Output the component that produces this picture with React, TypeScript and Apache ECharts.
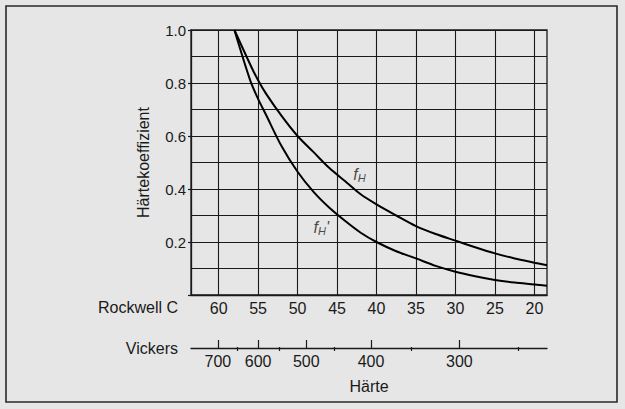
import React, { useEffect, useRef } from "react";
import * as echarts from "echarts";

// Rockwell C hardness (x) and hardness coefficients
const hrc = [58, 56, 55, 54, 52, 50, 48, 46, 44, 42, 40, 37.5, 35, 32.5, 30, 27.5, 25, 22.5, 20, 18.4];
const fH = [1.0, 0.87, 0.81, 0.76, 0.675, 0.6, 0.54, 0.48, 0.43, 0.38, 0.342, 0.3, 0.26, 0.23, 0.205, 0.18, 0.157, 0.138, 0.122, 0.112];
const fHPrime = [1.0, 0.81, 0.74, 0.68, 0.56, 0.465, 0.39, 0.33, 0.28, 0.235, 0.2, 0.165, 0.138, 0.11, 0.088, 0.071, 0.057, 0.047, 0.04, 0.035];

const rockwellTicks = [60, 55, 50, 45, 40, 35, 30, 25, 20];
const rockwellMin = 18.4;
const rockwellMax = 63.5;

// Vickers scale, positioned by equivalent Rockwell C value
const vickersMajor = [700, 600, 500, 400, 300];
const vickersMajorHRC = [60.1, 55.0, 48.9, 40.7, 29.5];
const vickersMinor = [650, 550, 450, 350, 250];
const vickersMinorHRC = [57.6, 52.3, 45.3, 35.6, 22.0];

// curve label anchors [HRC, coefficient]
const labelFH = [42.95, 0.453];
const labelFHPrime = [47.97, 0.255];

const FONT = "'Liberation Sans', Arial, Helvetica, sans-serif";
const INK = "#1a1a1a";

export default function App() {
  const ref = useRef<HTMLDivElement>(null);
  useEffect(() => {
    if (!ref.current) return;
    const chart = echarts.init(ref.current, null, { renderer: "svg" });
    const richLabel = {
      f: { fontFamily: FONT, fontStyle: "italic", fontSize: 16, color: INK },
      s: { fontFamily: FONT, fontStyle: "italic", fontSize: 11, color: INK, padding: [7, 0, 0, 0] },
    };
    chart.setOption({
      animation: false,
      backgroundColor: "#e6e6e6",
      textStyle: { fontFamily: FONT },
      graphic: [
        {
          type: "rect",
          shape: { x: 6, y: 6, width: 611, height: 396 },
          style: { fill: "none", stroke: "#2a2a2a", lineWidth: 1.6 },
          silent: true,
        },
        {
          type: "text",
          x: 178,
          y: 307,
          style: { text: "Rockwell C", fontSize: 16, fontFamily: FONT, fill: INK, align: "right", verticalAlign: "middle" },
        },
        {
          type: "text",
          x: 178,
          y: 348,
          style: { text: "Vickers", fontSize: 16, fontFamily: FONT, fill: INK, align: "right", verticalAlign: "middle" },
        },
      ],
      grid: [
        { left: 191, top: 30, width: 356, height: 265, show: true, borderColor: INK, borderWidth: 1.3, backgroundColor: "transparent" },
        { left: 191, top: 347, width: 356, height: 1, show: false },
      ],
      xAxis: [
        {
          type: "value",
          gridIndex: 0,
          min: rockwellMin,
          max: rockwellMax,
          inverse: true,
          axisLine: { show: true, lineStyle: { color: INK, width: 1.3 } },
          axisTick: { show: false, customValues: rockwellTicks },
          axisLabel: { customValues: rockwellTicks, fontSize: 16, color: INK, margin: 5, fontFamily: FONT },
          splitLine: { show: true, lineStyle: { color: INK, width: 1.1 } },
        },
        {
          type: "value",
          gridIndex: 1,
          min: rockwellMin,
          max: rockwellMax,
          inverse: true,
          name: "Härte",
          nameLocation: "middle",
          nameGap: 30,
          nameTextStyle: { fontSize: 16, color: INK, fontFamily: FONT },
          axisLine: { show: true, lineStyle: { color: INK, width: 1.3 } },
          axisTick: { show: true, inside: true, length: 8, customValues: vickersMajorHRC, lineStyle: { color: INK, width: 1.2 } },
          axisLabel: {
            customValues: vickersMajorHRC,
            fontSize: 16,
            color: INK,
            margin: 5,
            fontFamily: FONT,
            formatter: (v: number) => {
              const i = vickersMajorHRC.findIndex((h) => Math.abs(h - v) < 1e-6);
              return i >= 0 ? String(vickersMajor[i]) : "";
            },
          },
          splitLine: { show: false },
        },
        {
          type: "value",
          gridIndex: 1,
          min: rockwellMin,
          max: rockwellMax,
          inverse: true,
          axisLine: { show: false },
          axisTick: { show: true, inside: true, length: 4, customValues: vickersMinorHRC, lineStyle: { color: INK, width: 1.2 } },
          axisLabel: { show: false, customValues: vickersMinorHRC },
          splitLine: { show: false },
        },
      ],
      yAxis: [
        {
          type: "value",
          gridIndex: 0,
          min: 0,
          max: 1,
          interval: 0.2,
          name: "Härtekoeffizient",
          nameLocation: "middle",
          nameGap: 40,
          nameTextStyle: { fontSize: 16, color: INK, fontFamily: FONT },
          axisLine: { show: true, lineStyle: { color: INK, width: 1.3 } },
          axisTick: { show: true, length: 3, lineStyle: { color: INK, width: 1.2 } },
          axisLabel: {
            fontSize: 15,
            color: INK,
            margin: 5,
            fontFamily: FONT,
            formatter: (v: number) => (v === 0 ? "" : v.toFixed(1)),
          },
          splitLine: { show: true, lineStyle: { color: INK, width: 1.1 } },
          minorTick: { show: false, splitNumber: 2 },
          minorSplitLine: { show: true, lineStyle: { color: INK, width: 1.1 } },
        },
        { type: "value", gridIndex: 1, min: 0, max: 1, show: false },
      ],
      series: [
        {
          type: "line",
          name: "fH",
          xAxisIndex: 0,
          yAxisIndex: 0,
          data: hrc.map((x, i) => [x, fH[i]]),
          smooth: 0.3,
          symbol: "none",
          lineStyle: { color: "#000", width: 2 },
          z: 5,
        },
        {
          type: "line",
          name: "fH'",
          xAxisIndex: 0,
          yAxisIndex: 0,
          data: hrc.map((x, i) => [x, fHPrime[i]]),
          smooth: 0.3,
          symbol: "none",
          lineStyle: { color: "#000", width: 2 },
          z: 5,
        },
        {
          type: "scatter",
          xAxisIndex: 0,
          yAxisIndex: 0,
          symbolSize: 0,
          silent: true,
          z: 6,
          data: [
            { value: labelFH, label: { formatter: "{f|f}{s|H}" } },
            { value: labelFHPrime, label: { formatter: "{f|f}{s|H}{f|'}" } },
          ],
          label: { show: true, position: "right", distance: 0, rich: richLabel },
        },
      ],
    });
    return () => chart.dispose();
  }, []);
  return (
    <div
      ref={ref}
      style={{ position: "fixed", left: 0, top: 0, width: 625, height: 409 }}
    />
  );
}
